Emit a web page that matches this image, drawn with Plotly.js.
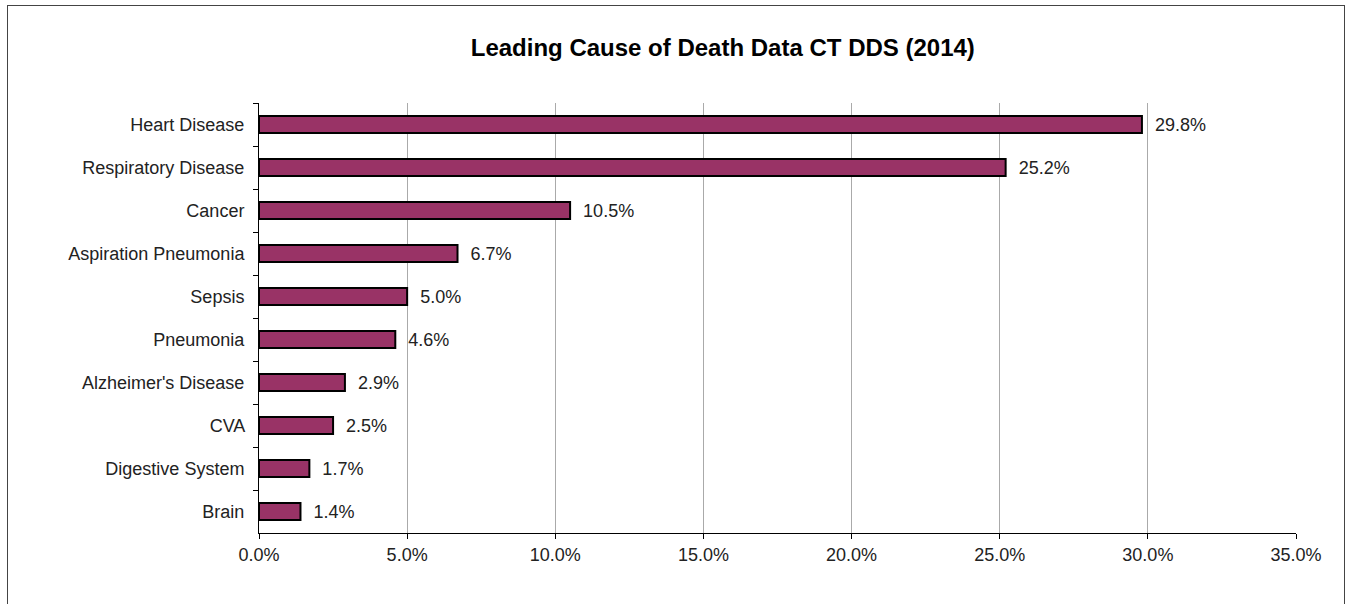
<!DOCTYPE html>
<html>
<head>
<meta charset="utf-8">
<script src="https://cdn.plot.ly/plotly-3.0.1.min.js"></script>
<style>
html,body{margin:0;padding:0;background:#fff;}
#chart{width:1346px;height:604px;position:absolute;left:0;top:0;}
#frame{position:absolute;left:7px;top:5px;width:1336px;height:620px;border:1px solid #444;pointer-events:none;}
</style>
</head>
<body>
<div id="chart"></div>
<div id="frame"></div>
<script>
const categories = ["Heart Disease","Respiratory Disease","Cancer","Aspiration Pneumonia","Sepsis","Pneumonia","Alzheimer's Disease","CVA","Digestive System","Brain"];
const values = [29.8, 25.2, 10.5, 6.7, 5.0, 4.6, 2.9, 2.5, 1.7, 1.4];
const xTicks = [0, 5, 10, 15, 20, 25, 30, 35];

const font = "Liberation Sans, Arial, sans-serif";

Plotly.newPlot('chart', [{
  type: 'bar',
  orientation: 'h',
  y: categories,
  x: values,
  marker: {color: '#993366', line: {color: '#000', width: 2}},
  texttemplate: '  %{x:.1f}%',
  textposition: 'outside',
  constraintext: 'none',
  cliponaxis: false,
  textfont: {family: font, size: 18, color: '#222'},
  hoverinfo: 'none'
}], {
  width: 1346, height: 604,
  margin: {l: 259, r: 50, t: 103, b: 71},
  paper_bgcolor: '#fff', plot_bgcolor: '#fff',
  bargap: 0.6,
  showlegend: false,
  title: {text: '<b>Leading Cause of Death Data CT DDS (2014)</b>', x: 0.537, xanchor: 'center', y: 0.922, yanchor: 'middle',
          font: {family: font, size: 24, color: '#000'}},
  xaxis: {
    range: [0, 35], tickvals: xTicks, ticktext: xTicks.map(v => v.toFixed(1) + '%'),
    showgrid: true, gridcolor: '#aaa', gridwidth: 1,
    showline: true, linecolor: '#000', linewidth: 1,
    ticks: 'outside', ticklen: 5, tickcolor: '#000',
    zeroline: false, fixedrange: true,
    tickfont: {family: font, size: 18, color: '#222'}
  },
  yaxis: {
    autorange: 'reversed', type: 'category',
    showline: true, linecolor: '#000', linewidth: 1,
    ticks: 'outside', ticklen: 5, tickcolor: '#000', tickson: 'boundaries',
    showgrid: false, zeroline: false, fixedrange: true,
    tickfont: {family: font, size: 18, color: '#222'}, ticksuffix: '  '
  }
}, {displayModeBar: false, staticPlot: true});
</script>
</body>
</html>
